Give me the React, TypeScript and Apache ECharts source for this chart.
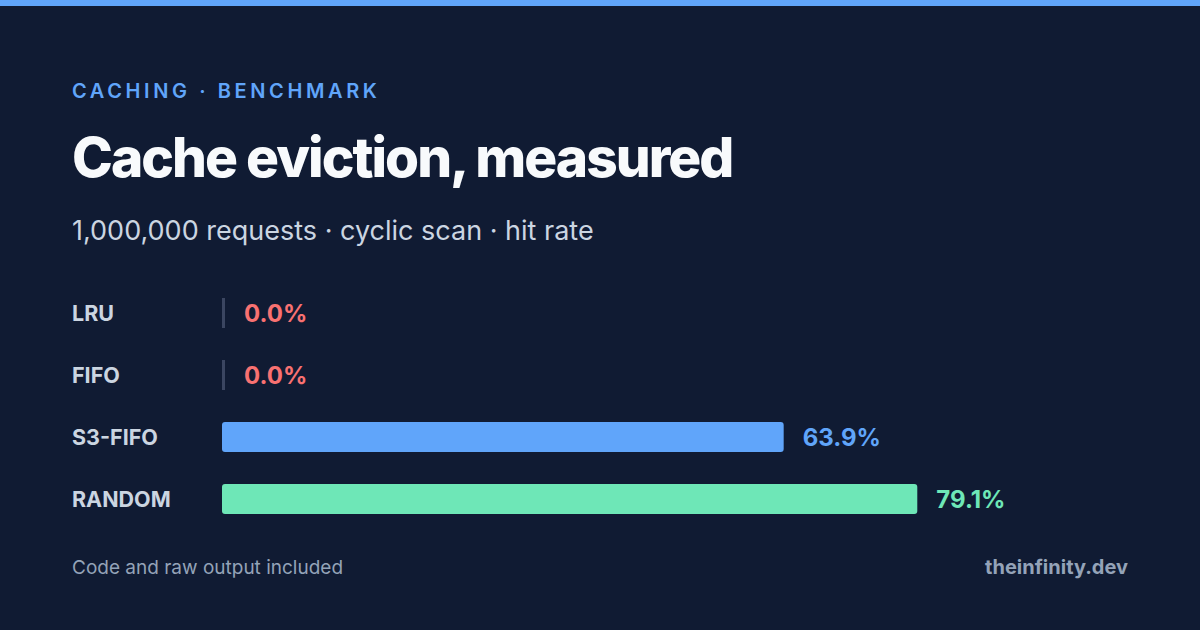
import { useEffect, useRef } from 'react'
import * as echarts from 'echarts'

const policies = ['LRU', 'FIFO', 'S3-FIFO', 'RANDOM']
const hitRates = [0.0, 0.0, 63.9, 79.1]
const barColors = ['#3b4661', '#3b4661', '#60a5fa', '#6ee7b7']
const labelColors = ['#f87171', '#f87171', '#60a5fa', '#6ee7b7']

const BG = '#101b33'
const FONT = 'Inter, "Noto Sans", sans-serif'

export default function App() {
  const ref = useRef<HTMLDivElement>(null)

  useEffect(() => {
    document.body.style.margin = '0'
    if (!ref.current) return
    const chart = echarts.init(ref.current, undefined, { renderer: 'svg' })

    chart.setOption({
      animation: false,
      backgroundColor: BG,
      textStyle: { fontFamily: FONT },
      grid: { left: 222, top: 282, width: 879, height: 248 },
      xAxis: {
        type: 'value',
        min: 0,
        max: 100,
        show: false,
      },
      yAxis: {
        type: 'category',
        data: policies,
        inverse: true,
        axisLine: { show: false },
        axisTick: { show: false },
        axisLabel: {
          align: 'left',
          margin: 150,
          color: '#cbd5e1',
          fontSize: 21.5,
          fontWeight: 700,
          fontFamily: FONT,
          padding: [0, 0, 3, 0],
        },
      },
      graphic: [
        { type: 'rect', shape: { x: 0, y: 0, width: 1200, height: 6 }, style: { fill: '#60a5fa' } },
        {
          type: 'text',
          style: {
            text: '1,000,000 requests · cyclic scan · hit rate',
            x: 72,
            y: 230,
            textVerticalAlign: 'middle',
            fill: '#cbd5e1',
            font: `400 27px ${FONT}`,
          },
        },
        {
          type: 'text',
          style: {
            text: 'Code and raw output included',
            x: 72,
            y: 567,
            textVerticalAlign: 'middle',
            fill: '#94a3b8',
            font: `400 19px ${FONT}`,
          },
        },
        {
          type: 'text',
          style: {
            text: 'theinfinity.dev',
            x: 1128,
            y: 567,
            textAlign: 'right',
            textVerticalAlign: 'middle',
            fill: '#94a3b8',
            font: `700 20px ${FONT}`,
          },
        },
      ],
      series: [
        {
          type: 'bar',
          barWidth: 30,
          barMinHeight: 3,
          data: hitRates.map((v, i) => ({
            value: v,
            itemStyle: { color: barColors[i], borderRadius: v > 0 ? 3 : 0 },
            label: { color: labelColors[i] },
          })),
          label: {
            show: true,
            position: 'right',
            distance: 19,
            fontSize: 24,
            fontWeight: 700,
            fontFamily: FONT,
            formatter: (p: any) => `${Number(p.value).toFixed(1)}%`,
          },
        },
      ],
    })

    return () => chart.dispose()
  }, [])

  return (
    <div style={{ position: 'fixed', left: 0, top: 0, width: 1200, height: 630 }}>
      <div ref={ref} style={{ width: 1200, height: 630 }} />
      <div
        style={{
          position: 'absolute',
          left: 72,
          top: 78,
          color: '#60a5fa',
          fontFamily: FONT,
          fontSize: 20,
          fontWeight: 600,
          letterSpacing: '0.18em',
          lineHeight: '26px',
          whiteSpace: 'nowrap',
        }}
      >
        CACHING · BENCHMARK
      </div>
      <div
        style={{
          position: 'absolute',
          left: 72,
          top: 122,
          color: '#f8fafc',
          fontFamily: FONT,
          fontSize: 55,
          fontWeight: 800,
          letterSpacing: '-0.036em',
          lineHeight: '70px',
          whiteSpace: 'nowrap',
        }}
      >
        Cache eviction, measured
      </div>
    </div>
  )
}
